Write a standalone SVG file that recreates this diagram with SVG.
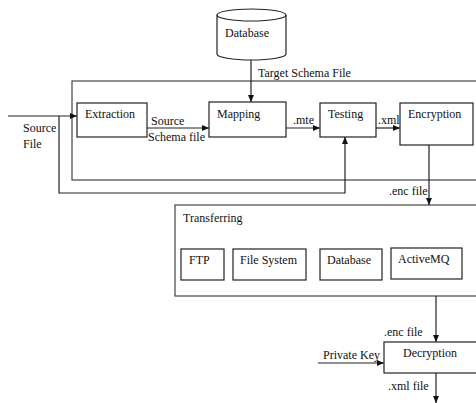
<svg xmlns="http://www.w3.org/2000/svg" width="476" height="403" viewBox="0 0 476 403">
<defs>
<marker id="ah" markerWidth="7" markerHeight="6" refX="7" refY="3" orient="auto" markerUnits="userSpaceOnUse">
<path d="M0,0 L7,3 L0,6 Z" fill="#111"/>
</marker>
</defs>
<style>
text{font-family:"Liberation Serif","Times New Roman",serif;font-size:12px;fill:#111}
.box{fill:#fff;stroke:#222;stroke-width:1.2}
.frame{fill:none;stroke:#444;stroke-width:1.2}
.ln{fill:none;stroke:#222;stroke-width:1.2}
.arr{fill:none;stroke:#222;stroke-width:1.2;marker-end:url(#ah)}
</style>
<rect width="476" height="403" fill="#fff"/>
<g id="frame-process"><rect class="frame" x="72" y="81" width="410" height="99"/></g>
<g id="frame-transferring"><rect class="frame" x="175" y="205" width="310" height="91"/><text x="183" y="222">Transferring</text></g>
<g id="connectors">
<path class="arr" d="M251,60 V102"/>
<path class="arr" d="M8,116 H77"/>
<path class="arr" d="M59,116 V193 H345 V137"/>
<path class="arr" d="M147,128 H209"/>
<path class="arr" d="M286,128 H320"/>
<path class="arr" d="M376,128 H400"/>
<path class="arr" d="M429,145 V205"/>
<path class="arr" d="M436,296 V342"/>
<path class="arr" d="M318,363 H384"/>
<path class="arr" d="M436,373 V403"/>
<text x="258" y="77">Target Schema File</text>
<text x="23" y="132">Source</text>
<text x="23" y="148">File</text>
<text x="151" y="125">Source</text>
<text x="148" y="141">Schema file</text>
<text x="293" y="124">.mte</text>
<text x="378" y="124">.xml</text>
<text x="389" y="195">.enc file</text>
<text x="384" y="336">.enc file</text>
<text x="323" y="359">Private Key</text>
<text x="388" y="390">.xml file</text>
</g>
<g id="database-top">
<path class="box" d="M217,15 V54 A34.5,6 0 0 0 286,54 V15"/>
<ellipse class="box" cx="251.5" cy="15" rx="34.5" ry="6"/>
<text x="225" y="37">Database</text>
</g>
<g id="extraction"><rect class="box" x="77" y="103" width="70" height="34"/><text x="85" y="118">Extraction</text></g>
<g id="mapping"><rect class="box" x="209" y="102" width="77" height="35"/><text x="217" y="118">Mapping</text></g>
<g id="testing"><rect class="box" x="320" y="103" width="56" height="34"/><text x="328" y="118">Testing</text></g>
<g id="encryption"><rect class="box" x="400" y="103" width="73" height="42"/><text x="408" y="118">Encryption</text></g>
<g id="ftp"><rect class="box" x="181" y="249" width="43" height="31"/><text x="189" y="264">FTP</text></g>
<g id="filesystem"><rect class="box" x="233" y="249" width="73" height="31"/><text x="240" y="264">File System</text></g>
<g id="database"><rect class="box" x="320" y="249" width="62" height="31"/><text x="327" y="264">Database</text></g>
<g id="activemq"><rect class="box" x="391" y="248" width="71" height="31"/><text x="398" y="263">ActiveMQ</text></g>
<g id="decryption"><rect class="box" x="384" y="342" width="95" height="31"/><text x="403" y="357">Decryption</text></g>
</svg>
